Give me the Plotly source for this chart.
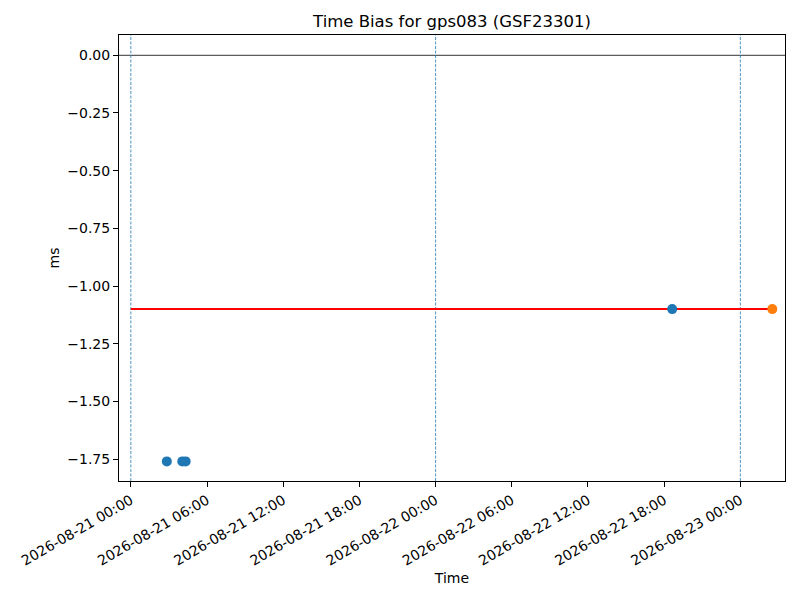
import plotly.graph_objects as go

# Data
blue_times = ["2026-08-21 02:50", "2026-08-21 04:03", "2026-08-21 04:19", "2026-08-22 18:38"]
blue_values = [-1.76, -1.76, -1.76, -1.10]
orange_times = ["2026-08-23 02:31"]
orange_values = [-1.10]
red_line_times = ["2026-08-21 00:00", "2026-08-23 02:31"]
red_line_values = [-1.10, -1.10]
day_lines = ["2026-08-21 00:00", "2026-08-22 00:00", "2026-08-23 00:00"]
x_range = ["2026-08-20 23:04", "2026-08-23 03:31"]
y_range = [-1.845, 0.088]
y_ticks = [0.0, -0.25, -0.5, -0.75, -1.0, -1.25, -1.5, -1.75]

FONT = "DejaVu Sans"
W, H = 792, 592  # page body has an 8px margin
fig = go.Figure()

fig.add_trace(go.Scatter(x=red_line_times, y=red_line_values, mode="lines",
                         line=dict(color="red", width=2), showlegend=False))
fig.add_trace(go.Scatter(x=blue_times, y=blue_values, mode="markers",
                         marker=dict(color="#1f77b4", size=10), showlegend=False))
fig.add_trace(go.Scatter(x=orange_times, y=orange_values, mode="markers",
                         marker=dict(color="#ff7f0e", size=10), showlegend=False))

# horizontal zero line
fig.add_hline(y=0, line=dict(color="black", width=0.8), layer="below")
for d in day_lines:
    fig.add_vline(x=d, line=dict(color="#1f77b4", width=0.8, dash="3px,1.5px"), layer="below")

axis_common = dict(showgrid=False, zeroline=False, showline=True, linecolor="black",
                   linewidth=1, mirror=True, ticks="outside", ticklen=5, tickwidth=1,
                   tickcolor="black", automargin=False,
                   tickfont=dict(family=FONT, size=14, color="black"))

fig.update_layout(
    width=W, height=H,
    margin=dict(l=111, r=15, t=27, b=119, autoexpand=False),
    paper_bgcolor="white", plot_bgcolor="white",
    font=dict(family=FONT, size=14, color="black"),
    title=dict(text="Time Bias for gps083 (GSF23301)", x=444 / W, xanchor="center",
               y=1 - 13 / H, yanchor="middle", automargin=False,
               font=dict(family=FONT, size=16.5, color="black")),
    xaxis=dict(type="date", range=x_range, tick0="2026-08-21 00:00", dtick=6 * 3600 * 1000,
               tickformat="%Y-%m-%d %H:%M", tickangle=-30,
               title=dict(text="Time", font=dict(family=FONT, size=14), standoff=5),
               **axis_common),
    yaxis=dict(range=y_range, tickvals=y_ticks, tickformat=".2f",
               title=dict(text="ms", font=dict(family=FONT, size=14), standoff=4),
               **axis_common),
)

fig.write_html("out.html")
